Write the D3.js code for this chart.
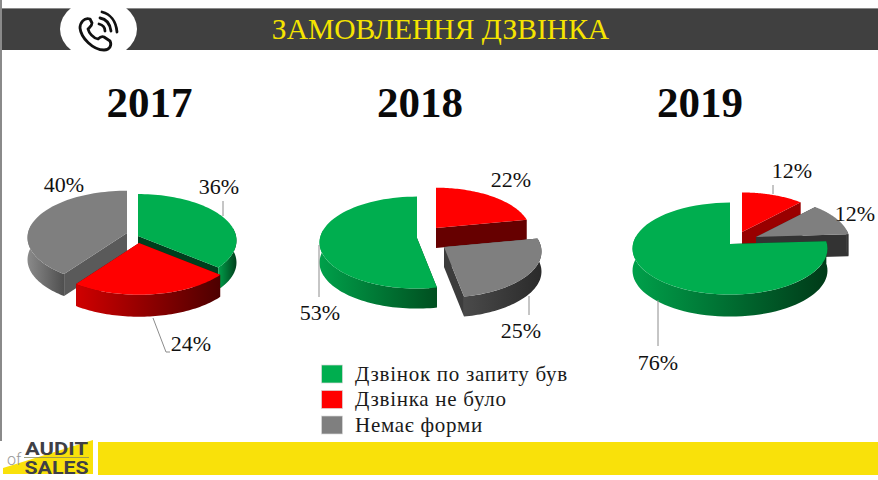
<!DOCTYPE html>
<html><head><meta charset="utf-8">
<style>html,body{margin:0;padding:0;background:#fff}svg{display:block}</style>
<script src="https://cdn.jsdelivr.net/npm/d3@7"></script></head>
<body><svg id="c" width="878" height="480"></svg>
<script>
// ---- data ----
const seriesNames = ["Дзвінок по запиту був", "Дзвінка не було", "Немає форми"];
const years = ["2017", "2018", "2019"];
const values2017 = [36, 24, 40];
const values2018 = [53, 22, 25];
const values2019 = [76, 12, 12];
const colors = ["#00ae4f", "#ff0000", "#7f7f7f"];
const titleText = "ЗАМОВЛЕННЯ ДЗВІНКА";

// ---- layout ----
const serif = "'Liberation Serif', serif";
const pies = [
 {values: values2017, start: 0, cx:133, cy:238, rx:99, ry:47, depth:22, year:149.5,
  off:[[5,-2],[6,5],[-6,-5]], order:[0,2,1], scale:[0.99,1,1],
  wall:["#003f1d","#660000","#5a5a5a"],
  rim:[["#00a04a","#00401c"],["#d00000","#4d0000"],["#8a8a8a","#4f4f4f"]],
  labels:[[219,194,"36%"],[191,351,"24%"],[64,192,"40%"]],
  leaders:[[[223,201],[223,216]],[[153,318],[166,352],[170,352]]]},
 {values: values2018, start: 169.2, cx:425, cy:240, rx:97, ry:46, depth:20, year:420,
  off:[[-8,-2],[11,-12],[19,7]], order:[1,0,2], scale:[1,0.97,1],
  wall:["#00401c","#660000","#3c3c3c"],
  rim:[["#00a04a","#004f20"],["#800000","#500000"],["#4a4a4a","#2a2a2a"]],
  labels:[[320,320,"53%"],[511,187,"22%"],[521,338,"25%"]],
  leaders:[[[319,245],[319,297]],[[529,296],[529,315]]]},
 {values: values2019, start: 86.4, cx:730, cy:244, rx:97, ry:46, depth:22, year:700,
  off:[[0,0],[12,-12],[26,-7]], order:[1,2,0], scale:[1,0.95,0.96],
  wall:["#00401c","#990000","#333333"],
  rim:[["#00a04a","#003a18"],["#aa0000","#800000"],["#444444","#2a2a2a"]],
  labels:[[792,178,"12%"],[855,221,"12%"],[658,370,"76%"]],
  leaders:[[[773,185],[773,194]],[[658,300],[658,346]]]}
];
const persp = 0.1;

const svg = d3.select("#c");
const defs = svg.append("defs");

// page furniture
svg.append("rect").attr("x",0).attr("y",0).attr("width",2).attr("height",441).attr("fill","#8a8a8a");
svg.append("rect").attr("x",2).attr("y",8).attr("width",876).attr("height",42).attr("fill","#404040");
svg.append("line").attr("x1",2).attr("x2",878).attr("y1",8.5).attr("y2",8.5).attr("stroke","#8a8a8a");
svg.append("ellipse").attr("cx",98.5).attr("cy",29).attr("rx",38.5).attr("ry",30).attr("fill","#fff");
svg.append("rect").attr("x",69).attr("y",0).attr("width",59).attr("height",8).attr("fill","#fff");

// phone icon
const phone = svg.append("g").attr("fill","none").attr("stroke","#111").attr("stroke-width",2.8).attr("stroke-linecap","round").attr("stroke-linejoin","round");
phone.append("path").attr("d","M90 19 C84 17 80 23 80 28 C81 38 93 50 104 50 C110 50 112 45 110 41 L104 37 C102 36 100 37 98 39 C93 38 89 33 88 29 C90 27 92 26 92 23 Z");
phone.append("path").attr("d","M102 12 C110 14 116 21 117 32");
phone.append("path").attr("d","M100 18 C106 19 110 24 111 31");
phone.append("path").attr("d","M99 24 C103 25 105 27 105 31");

svg.append("text").attr("x",440.5).attr("y",39).attr("text-anchor","middle")
  .attr("font-family",serif).attr("font-size",29.5).attr("fill","#f5e400").text(titleText);

// projection of a disc point to the screen, tilted with mild perspective
function project(p, ox, oy, deg, r=1){
  const t = deg*Math.PI/180, u = Math.sin(t)*r, v = Math.cos(t)*r, s = 1 - persp*v;
  return [p.cx + ox + p.rx*u*s, p.cy + oy - p.ry*v*s];
}
const lineGen = d3.line();
const sweep = (a,b) => d3.range(0,61).map(i => a + (b-a)*i/60);

pies.forEach((p,pi)=>{
  const arcs = d3.pie().sort(null).startAngle(p.start*Math.PI/180).endAngle((p.start+360)*Math.PI/180)(p.values);
  const g = svg.append("g");
  p.order.forEach(i=>{
    const a = arcs[i], [ox,oy] = p.off[i], sc = p.scale[i];
    let a0 = a.startAngle*180/Math.PI, a1 = a.endAngle*180/Math.PI;
    if(a0 >= 359.99){ a0 -= 360; a1 -= 360; }
    const apex = [p.cx+ox, p.cy+oy];
    const down = q => [q[0], q[1]+p.depth];
    // radial walls
    [a0,a1].forEach(e=>{
      const q = project(p,ox,oy,e,sc);
      g.append("path").attr("d",lineGen([apex,q,down(q),down(apex)])+"Z").attr("fill",p.wall[i]);
    });
    // outer rim
    const r0 = Math.max(a0,80), r1 = Math.min(a1,280);
    if(r1>r0){
      const top = sweep(r0,r1).map(d=>project(p,ox,oy,d,sc));
      const id = `rim${pi}_${i}`;
      const xs = top.map(d=>d[0]);
      const grad = defs.append("linearGradient").attr("id",id).attr("gradientUnits","userSpaceOnUse")
        .attr("x1",d3.min(xs)).attr("x2",d3.max(xs)).attr("y1",0).attr("y2",0);
      grad.append("stop").attr("offset",0).attr("stop-color",p.rim[i][0]);
      grad.append("stop").attr("offset",1).attr("stop-color",p.rim[i][1]);
      g.append("path").attr("d",lineGen(top.concat(top.map(down).reverse()))+"Z").attr("fill",`url(#${id})`);
    }
    // top face
    const face = [apex].concat(sweep(a0,a1).map(d=>project(p,ox,oy,d,sc)));
    g.append("path").attr("d",lineGen(face)+"Z").attr("fill",colors[i]);
  });
  // leaders and labels
  p.leaders.forEach(l=>svg.append("path").attr("d",lineGen(l)).attr("fill","none").attr("stroke","#8c8c8c").attr("stroke-width",1));
  p.labels.forEach(l=>svg.append("text").attr("x",l[0]).attr("y",l[1]).attr("text-anchor","middle").attr("font-family",serif).attr("font-size",22).attr("fill","#111").text(l[2]));
  svg.append("text").attr("x",p.year).attr("y",117).attr("text-anchor","middle").attr("font-family",serif).attr("font-weight","bold").attr("font-size",43).attr("fill","#0a0a0a").text(years[pi]);
});

// legend
const lg = svg.append("g").selectAll("g").data(seriesNames).join("g").attr("transform",(d,i)=>`translate(321.5,${365+i*25.5})`);
lg.append("rect").attr("width",21).attr("height",18).attr("fill",(d,i)=>colors[i]).attr("stroke","#d9d9d9").attr("stroke-width",0.7);
lg.append("text").attr("x",33.5).attr("y",15.5).attr("font-family",serif).attr("font-size",21).attr("letter-spacing",0.72).attr("fill","#1a1a1a").text(d=>d);

// footer
svg.append("rect").attr("x",98).attr("y",442).attr("width",780).attr("height",33).attr("fill","#f9e10a");
svg.append("path").attr("d","M3 468 L93 440 L93 474 L3 474 Z").attr("fill","#f9e10a");
svg.append("line").attr("x1",24).attr("x2",89).attr("y1",457.5).attr("y2",457.5).attr("stroke","#8a8a5a").attr("stroke-width",0.8);
svg.append("text").attr("x",25).attr("y",455).attr("font-family","Roboto,sans-serif").attr("font-weight",700).attr("font-size",17.5).attr("textLength",63).attr("lengthAdjust","spacingAndGlyphs").attr("fill","#3f3f46").text("AUDIT");
svg.append("text").attr("x",24.5).attr("y",473.5).attr("font-family","Roboto,sans-serif").attr("font-weight",700).attr("font-size",17.5).attr("textLength",64).attr("lengthAdjust","spacingAndGlyphs").attr("fill","#3f3f46").text("SALES");
svg.append("text").attr("x",7).attr("y",465).attr("font-family","Roboto,sans-serif").attr("font-weight",300).attr("font-size",16).attr("fill","#999").text("of");
</script></body></html>
